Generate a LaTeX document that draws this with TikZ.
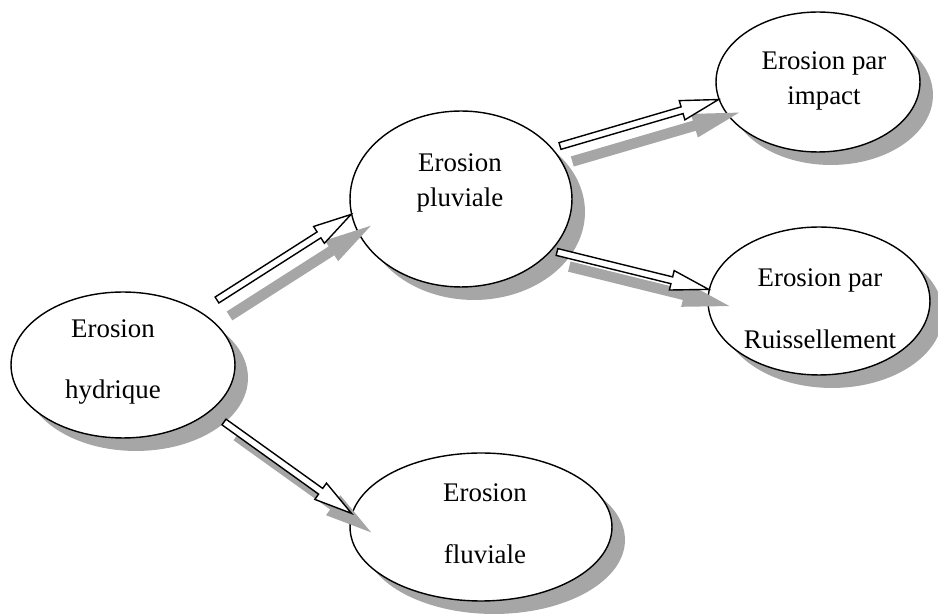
\documentclass[tikz,border=0pt]{standalone}
\usepackage{fontspec}
\setmainfont{Liberation Serif}
\usepackage{tikz}
\usetikzlibrary{calc}
\usetikzlibrary{shapes.geometric}
\usetikzlibrary{shadows}
\tikzset{%
    bubble/.style={
		draw, fill=white, shape=ellipse, line width=0.8pt, inner sep=0pt,
		drop shadow={shadow xshift=0.26cm, shadow yshift=-0.26cm, fill=black!35, opacity=1}
	}
}
\tikzset{bubbletext/.style={align=center, inner sep=0pt, font=\fontsize{15.3}{19.8}\selectfont}}
\tikzset{%
    blockarr/.style={
		draw, fill=white, line width=0.8pt, line join=miter,
		drop shadow={shadow xshift=0.28cm, shadow yshift=-0.3cm, fill=black!35, draw=black!35, line width=2pt, opacity=1}
	}
}
% hollow block arrow from #1 (tail) to #2 (tip)
\newcommand{\blockarrow}[2]{%
	\coordinate (neck) at ($(#2)!0.76cm!(#1)$);
	\filldraw[blockarr] ($(#1)!0.07cm!90:(#2)$) -- ($(neck)!0.07cm!-90:(#1)$) -- ($(neck)!0.2cm!-90:(#1)$)
		-- (#2) -- ($(neck)!0.2cm!90:(#1)$) -- ($(neck)!0.07cm!90:(#1)$) -- ($(#1)!0.07cm!-90:(#2)$) -- cycle;
}

\begin{document}
\begin{tikzpicture}[x=0.02cm, y=-0.02cm]
		\useasboundingbox (0,0) rectangle (938,614);

		% the five bubbles
		\node[bubble, minimum width=4.48cm, minimum height=2.92cm] (hyd) at (123,365) {};
		\node[bubble, minimum width=4.44cm, minimum height=3.52cm] (pluv) at (461,199) {};
		\node[bubble, minimum width=4.08cm, minimum height=2.80cm] (imp) at (818,82) {};
		\node[bubble, minimum width=4.44cm, minimum height=2.96cm] (ruis) at (819,301) {};
		\node[bubble, minimum width=5.24cm, minimum height=2.96cm] (fluv) at (481,527) {};

		\node[bubbletext] (hydtxt) at (113,362) {Erosion\\[15.4pt]hydrique};
		\node[bubbletext] (pluvtxt) at (460,183) {Erosion\\pluviale};
		\node[bubbletext] (imptxt) at (824,81) {Erosion par\\impact};
		\node[bubbletext] (ruistxt) at (820,309) {Erosion par\\[15.4pt]Ruissellement};
		\node[bubbletext] (fluvtxt) at (485,524) {Erosion\\[15.4pt]fluviale};

		% free tails of the arrows
		\coordinate (hydout) at (217,300);
		\coordinate (hyddown) at (224,422);
		\coordinate (pluvup) at (560,146);
		\coordinate (pluvdown) at (557,252);

		\blockarrow{hydout}{pluv.188}
		\blockarrow{hyddown}{fluv.174}
		\blockarrow{pluvup}{imp.190}
		\blockarrow{pluvdown}{ruis.174}

	\end{tikzpicture}
\end{document}
